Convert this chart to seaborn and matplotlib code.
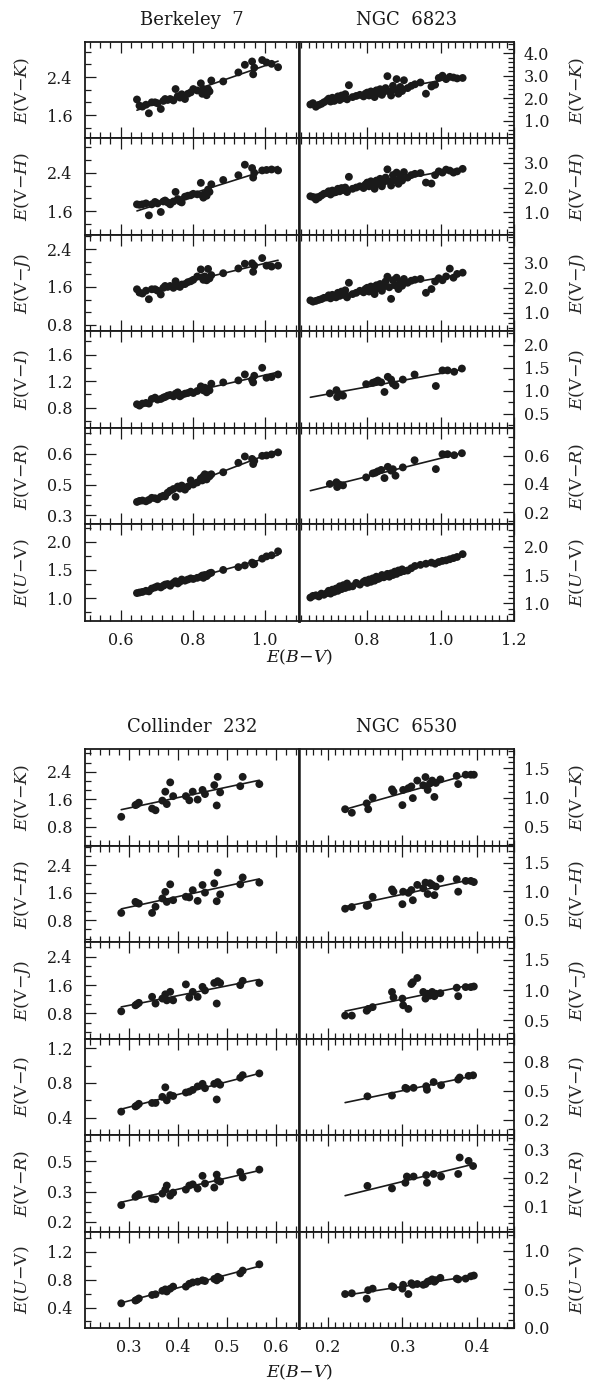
import matplotlib
matplotlib.use('Agg')
import matplotlib.pyplot as plt
import numpy as np
import seaborn as sns
from matplotlib.ticker import AutoMinorLocator

# ---------------- data ----------------
# Berkeley 7
be7_bv = [0.645, 0.652, 0.660, 0.670, 0.678, 0.686, 0.695, 0.702, 0.711, 0.718,
          0.723, 0.730, 0.737, 0.746, 0.752, 0.758, 0.764, 0.769, 0.778, 0.786,
          0.794, 0.801, 0.812, 0.822, 0.826, 0.829, 0.833, 0.838, 0.842, 0.846,
          0.851, 0.884, 0.926, 0.944, 0.964, 0.967, 0.970, 0.992, 1.004, 1.018, 1.036]
be7_vk = [1.93, 1.80, 1.78, 1.82, 1.64, 1.87, 1.87, 1.85, 1.73, 1.90,
          1.94, 1.92, 1.94, 1.91, 2.15, 2.00, 1.97, 2.04, 1.94, 2.05,
          2.08, 2.15, 2.12, 2.27, 2.05, 2.15, 2.11, 2.02, 2.15, 2.10,
          2.33, 2.31, 2.50, 2.66, 2.73, 2.46, 2.60, 2.76, 2.71, 2.68, 2.61]
be7_vh = [1.74, 1.73, 1.74, 1.76, 1.51, 1.74, 1.79, 1.76, 1.58, 1.80,
          1.82, 1.78, 1.74, 1.80, 2.00, 1.85, 1.80, 1.78, 1.90, 1.92,
          1.93, 1.96, 1.95, 2.19, 1.93, 1.88, 1.96, 1.92, 2.05, 2.00,
          2.16, 2.25, 2.35, 2.57, 2.50, 2.30, 2.40, 2.45, 2.46, 2.47, 2.45]
be7_vj = [1.55, 1.48, 1.46, 1.52, 1.34, 1.55, 1.55, 1.52, 1.44, 1.58,
          1.62, 1.60, 1.62, 1.58, 1.72, 1.62, 1.60, 1.65, 1.66, 1.70,
          1.72, 1.75, 1.82, 1.97, 1.80, 1.75, 1.82, 1.74, 1.98, 1.78,
          1.85, 1.89, 1.99, 2.09, 2.10, 1.92, 2.05, 2.21, 2.05, 2.03, 2.05]
be7_vi = [0.85, 0.83, 0.86, 0.87, 0.86, 0.93, 0.95, 0.92, 0.93, 0.95,
          0.96, 0.98, 0.99, 0.97, 1.01, 1.03, 0.97, 0.99, 1.01, 1.02,
          1.04, 1.02, 1.05, 1.12, 1.08, 1.06, 1.10, 1.03, 1.08, 1.06,
          1.16, 1.18, 1.21, 1.30, 1.22, 1.18, 1.28, 1.40, 1.25, 1.26, 1.30]
be7_vr = [0.365, 0.370, 0.372, 0.368, 0.375, 0.385, 0.383, 0.378, 0.390, 0.395,
          0.392, 0.410, 0.420, 0.428, 0.390, 0.440, 0.430, 0.445, 0.425, 0.440,
          0.470, 0.450, 0.460, 0.480, 0.470, 0.490, 0.500, 0.475, 0.495, 0.490,
          0.500, 0.510, 0.556, 0.587, 0.575, 0.550, 0.565, 0.590, 0.592, 0.597, 0.607]
be7_uv = [1.09, 1.10, 1.11, 1.13, 1.12, 1.17, 1.19, 1.21, 1.19, 1.22,
          1.24, 1.25, 1.22, 1.27, 1.30, 1.26, 1.29, 1.33, 1.31, 1.33,
          1.35, 1.34, 1.36, 1.38, 1.40, 1.36, 1.41, 1.39, 1.42, 1.44,
          1.45, 1.50, 1.55, 1.58, 1.63, 1.60, 1.61, 1.70, 1.74, 1.76, 1.83]

# NGC 6823
n6823_bv = [0.645, 0.652, 0.660, 0.668, 0.675, 0.682, 0.690, 0.695, 0.700, 0.705,
            0.710, 0.715, 0.720, 0.725, 0.730, 0.735, 0.740, 0.745, 0.750, 0.760,
            0.770, 0.780, 0.790, 0.795, 0.800, 0.805, 0.810, 0.815, 0.820, 0.825,
            0.830, 0.835, 0.840, 0.845, 0.850, 0.855, 0.860, 0.865, 0.870, 0.875,
            0.880, 0.885, 0.890, 0.895, 0.900, 0.910, 0.920, 0.930, 0.945, 0.960,
            0.975, 0.985, 0.995, 1.005, 1.015, 1.025, 1.035, 1.045, 1.060]
n6823_vk = [1.72, 1.78, 1.62, 1.70, 1.75, 1.82, 1.90, 1.98, 1.85, 2.02,
            1.88, 1.95, 2.08, 1.92, 2.12, 2.00, 2.18, 1.95, 2.58, 2.05,
            2.10, 2.15, 2.08, 2.20, 2.25, 2.12, 2.30, 2.18, 2.05, 2.35,
            2.22, 2.40, 2.15, 2.28, 2.45, 2.98, 2.30, 2.12, 2.55, 2.38,
            2.85, 2.20, 2.50, 2.32, 2.80, 2.45, 2.55, 2.62, 2.70, 2.20,
            2.52, 2.60, 2.90, 3.00, 2.85, 2.95, 2.92, 2.88, 2.90]
n6823_vh = [1.65, 1.62, 1.52, 1.60, 1.68, 1.75, 1.78, 1.85, 1.72, 1.88,
            1.80, 1.82, 1.95, 1.85, 1.98, 1.90, 2.00, 1.82, 2.43, 1.95,
            2.00, 2.05, 1.98, 2.12, 2.20, 2.05, 2.25, 2.10, 1.95, 2.28,
            2.15, 2.35, 2.05, 2.22, 2.40, 2.73, 2.25, 2.08, 2.50, 2.30,
            2.60, 2.15, 2.45, 2.28, 2.62, 2.40, 2.50, 2.55, 2.58, 2.20,
            2.16, 2.50, 2.65, 2.60, 2.72, 2.68, 2.60, 2.65, 2.75]
n6823_vj = [1.50, 1.45, 1.48, 1.52, 1.55, 1.60, 1.62, 1.70, 1.58, 1.72,
            1.65, 1.62, 1.80, 1.68, 1.85, 1.72, 1.90, 1.62, 2.20, 1.75,
            1.80, 1.88, 1.82, 1.95, 2.00, 1.85, 2.05, 1.92, 1.75, 2.10,
            1.98, 2.15, 1.88, 2.05, 2.25, 2.44, 2.02, 1.56, 2.30, 2.10,
            2.40, 1.95, 2.25, 2.08, 2.35, 2.20, 2.28, 2.32, 2.35, 1.80,
            1.95, 2.25, 2.38, 2.30, 2.45, 2.76, 2.40, 2.55, 2.60]
n6823_uv = [1.10, 1.13, 1.14, 1.12, 1.17, 1.15, 1.18, 1.22, 1.17, 1.24,
            1.20, 1.26, 1.22, 1.30, 1.25, 1.32, 1.27, 1.35, 1.29, 1.30,
            1.36, 1.33, 1.38, 1.40, 1.36, 1.42, 1.38, 1.44, 1.40, 1.47,
            1.43, 1.45, 1.50, 1.46, 1.48, 1.52, 1.47, 1.53, 1.50, 1.56,
            1.52, 1.58, 1.55, 1.60, 1.57, 1.58, 1.62, 1.66, 1.68, 1.70,
            1.72, 1.70, 1.73, 1.75, 1.76, 1.78, 1.80, 1.82, 1.87]
n6823_bv_opt = [0.698, 0.716, 0.718, 0.725, 0.734, 0.797, 0.815, 0.822, 0.829, 0.838,
                0.847, 0.856, 0.865, 0.870, 0.877, 0.897, 0.929, 0.987, 1.005, 1.019,
                1.037, 1.058]
n6823_vi = [0.94, 1.01, 0.86, 0.92, 0.89, 1.14, 1.17, 1.19, 1.22, 1.18,
            0.97, 1.30, 1.24, 1.15, 1.11, 1.24, 1.35, 1.10, 1.44, 1.44,
            1.41, 1.48]
n6823_vr = [0.400, 0.412, 0.378, 0.395, 0.390, 0.447, 0.475, 0.480, 0.490, 0.500,
            0.442, 0.522, 0.495, 0.505, 0.459, 0.518, 0.569, 0.506, 0.612, 0.612,
            0.605, 0.619]

# Collinder 232
cr232_bv = [0.284, 0.313, 0.316, 0.320, 0.347, 0.354, 0.368, 0.374, 0.377, 0.384,
            0.390, 0.416, 0.423, 0.430, 0.440, 0.450, 0.455, 0.474, 0.479, 0.481,
            0.486, 0.527, 0.532, 0.566]
cr232_vk = [1.09, 1.43, 1.45, 1.50, 1.33, 1.28, 1.56, 1.82, 1.46, 2.09,
            1.69, 1.69, 1.57, 1.82, 1.59, 1.87, 1.75, 2.01, 1.42, 2.25,
            1.80, 1.98, 2.25, 2.04]
cr232_vh = [1.01, 1.33, 1.30, 1.28, 1.01, 1.19, 1.43, 1.62, 1.33, 1.84,
            1.38, 1.48, 1.46, 1.67, 1.36, 1.82, 1.60, 1.87, 1.35, 2.18,
            1.55, 1.84, 2.04, 1.89]
cr232_vj = [0.86, 1.03, 1.06, 1.10, 1.27, 1.08, 1.22, 1.34, 1.17, 1.41,
            1.17, 1.62, 1.25, 1.41, 1.27, 1.55, 1.45, 1.66, 1.08, 1.71,
            1.66, 1.60, 1.72, 1.66]
cr232_vi = [0.47, 0.53, 0.54, 0.56, 0.57, 0.57, 0.64, 0.75, 0.60, 0.66,
            0.65, 0.69, 0.70, 0.72, 0.76, 0.79, 0.74, 0.79, 0.61, 0.81,
            0.78, 0.86, 0.89, 0.91]
cr232_vr = [0.283, 0.324, 0.330, 0.337, 0.315, 0.312, 0.340, 0.360, 0.380, 0.330,
            0.345, 0.360, 0.380, 0.386, 0.365, 0.428, 0.390, 0.370, 0.434, 0.406,
            0.400, 0.447, 0.420, 0.459]
cr232_uv = [0.46, 0.50, 0.51, 0.53, 0.58, 0.59, 0.64, 0.66, 0.63, 0.67,
            0.70, 0.70, 0.74, 0.76, 0.77, 0.79, 0.78, 0.81, 0.79, 0.84,
            0.82, 0.89, 0.93, 1.02]

# NGC 6530
n6530_bv = [0.223, 0.232, 0.252, 0.254, 0.260, 0.286, 0.288, 0.300, 0.301, 0.308,
            0.312, 0.314, 0.320, 0.328, 0.331, 0.334, 0.337, 0.340, 0.343, 0.345,
            0.351, 0.373, 0.375, 0.385, 0.392, 0.396]
n6530_vk = [0.80, 0.74, 0.90, 0.80, 1.00, 1.14, 1.10, 0.87, 1.13, 1.16,
            1.19, 0.99, 1.29, 1.21, 1.35, 1.13, 1.24, 1.29, 1.01, 1.25,
            1.31, 1.37, 1.23, 1.39, 1.39, 1.39]
n6530_vh = [0.69, 0.72, 0.74, 0.75, 0.90, 1.03, 0.99, 0.77, 0.99, 0.97,
            1.02, 0.84, 1.11, 1.05, 1.15, 0.95, 1.14, 1.11, 0.93, 1.08,
            1.22, 1.21, 0.99, 1.18, 1.18, 1.16]
n6530_vj = [0.58, 0.58, 0.66, 0.69, 0.72, 0.97, 0.88, 0.86, 0.75, 0.69,
            1.10, 1.13, 1.20, 0.97, 0.86, 0.94, 0.91, 0.97, 0.90, 0.94,
            0.95, 1.04, 0.90, 1.05, 1.05, 1.06]
n6530_uv = [0.44, 0.45, 0.38, 0.49, 0.51, 0.54, 0.53, 0.51, 0.56, 0.44,
            0.58, 0.56, 0.57, 0.56, 0.57, 0.60, 0.61, 0.63, 0.60, 0.62,
            0.65, 0.64, 0.63, 0.64, 0.67, 0.68]
n6530_bv_opt = [0.253, 0.286, 0.304, 0.306, 0.315, 0.332, 0.333, 0.342, 0.352, 0.375,
                0.377, 0.389, 0.395]
n6530_vi = [0.442, 0.450, 0.530, 0.520, 0.530, 0.547, 0.510, 0.590, 0.557, 0.616,
            0.637, 0.654, 0.660]
n6530_vr = [0.171, 0.162, 0.182, 0.204, 0.204, 0.209, 0.182, 0.213, 0.204, 0.213,
            0.271, 0.259, 0.241]

cluster_names = ['Berkeley  7', 'NGC  6823', 'Collinder  232', 'NGC  6530']
color_labels = [r'$E(\mathrm{V}{-}K)$', r'$E(\mathrm{V}{-}H)$', r'$E(\mathrm{V}{-}J)$',
                r'$E(\mathrm{V}{-}I)$', r'$E(\mathrm{V}{-}R)$', r'$E(U{-}\mathrm{V})$']

# ---------------- layout ----------------
W, H = 591, 1384
sns.set_style('ticks')
plt.rcParams['font.family'] = ['DejaVu Serif']
plt.rcParams['mathtext.fontset'] = 'dejavuserif'
INK = '#1a1a1a'

fig = plt.figure(figsize=(W / 100, H / 100), dpi=100)

clusters = [
    dict(title=cluster_names[0], bv=be7_bv,
         series=[(be7_bv, be7_vk), (be7_bv, be7_vh), (be7_bv, be7_vj),
                 (be7_bv, be7_vi), (be7_bv, be7_vr), (be7_bv, be7_uv)],
         xlim=(0.501, 1.094), xt=[0.6, 0.8, 1.0], xl=['0.6', '0.8', '1.0'], xm=7,
         ys=[((1.11, 3.14), [1.6, 2.4], ['1.6', '2.4'], 3),
             ((1.10, 3.12), [1.6, 2.4], ['1.6', '2.4'], 3),
             ((0.66, 2.70), [0.8, 1.6, 2.4], ['0.8', '1.6', '2.4'], 3),
             ((0.495, 1.95), [0.8, 1.2, 1.6], ['0.8', '1.2', '1.6'], 2),
             ((0.256, 0.727), [0.3, 0.45, 0.6], ['0.3', '0.5', '0.6'], 3),
             ((0.60, 2.31), [1.0, 1.5, 2.0], ['1.0', '1.5', '2.0'], 2)],
         left=85, width=214, top=42.0, side='left'),
    dict(title=cluster_names[1], bv=n6823_bv,
         series=[(n6823_bv, n6823_vk), (n6823_bv, n6823_vh), (n6823_bv, n6823_vj),
                 (n6823_bv_opt, n6823_vi), (n6823_bv_opt, n6823_vr), (n6823_bv, n6823_uv)],
         xlim=(0.614, 1.2), xt=[0.8, 1.0, 1.2], xl=['0.8', '1.0', '1.2'], xm=10,
         ys=[((0.21, 4.5), [1, 2, 3, 4], ['1.0', '2.0', '3.0', '4.0'], 5),
             ((0.10, 3.97), [1, 2, 3], ['1.0', '2.0', '3.0'], 5),
             ((0.27, 4.1), [1, 2, 3], ['1.0', '2.0', '3.0'], 5),
             ((0.19, 2.29), [0.5, 1.0, 1.5, 2.0], ['0.5', '1.0', '1.5', '2.0'], 2),
             ((0.113, 0.80), [0.2, 0.4, 0.6], ['0.2', '0.4', '0.6'], 3),
             ((0.69, 2.4), [1.0, 1.5, 2.0], ['1.0', '1.5', '2.0'], 5)],
         left=299, width=215, top=42.0, side='right'),
    dict(title=cluster_names[2], bv=cr232_bv,
         series=[(cr232_bv, cr232_vk), (cr232_bv, cr232_vh), (cr232_bv, cr232_vj),
                 (cr232_bv, cr232_vi), (cr232_bv, cr232_vr), (cr232_bv, cr232_uv)],
         xlim=(0.21, 0.647), xt=[0.3, 0.4, 0.5, 0.6], xl=['0.3', '0.4', '0.5', '0.6'], xm=5,
         ys=[((0.25, 3.05), [0.8, 1.6, 2.4], ['0.8', '1.6', '2.4'], 3),
             ((0.16, 2.96), [0.8, 1.6, 2.4], ['0.8', '1.6', '2.4'], 3),
             ((0.09, 2.81), [0.8, 1.6, 2.4], ['0.8', '1.6', '2.4'], 3),
             ((0.20, 1.31), [0.4, 0.8, 1.2], ['0.4', '0.8', '1.2'], 2),
             ((0.152, 0.63), [0.2, 0.35, 0.5], ['0.2', '0.3', '0.5'], 3),
             ((0.106, 1.49), [0.4, 0.8, 1.2], ['0.4', '0.8', '1.2'], 2)],
         left=85, width=214, top=749.3, side='left'),
    dict(title=cluster_names[3], bv=n6530_bv,
         series=[(n6530_bv, n6530_vk), (n6530_bv, n6530_vh), (n6530_bv, n6530_vj),
                 (n6530_bv_opt, n6530_vi), (n6530_bv_opt, n6530_vr), (n6530_bv, n6530_uv)],
         xlim=(0.161, 0.45), xt=[0.2, 0.3, 0.4], xl=['0.2', '0.3', '0.4'], xm=10,
         ys=[((0.175, 1.825), [0.5, 1.0, 1.5], ['0.5', '1.0', '1.5'], 5),
             ((0.10, 1.80), [0.5, 1.0, 1.5], ['0.5', '1.0', '1.5'], 5),
             ((0.20, 1.79), [0.5, 1.0, 1.5], ['0.5', '1.0', '1.5'], 5),
             ((0.04, 1.04), [0.2, 0.5, 0.8], ['0.2', '0.5', '0.8'], 3),
             ((0.01, 0.35), [0.1, 0.2, 0.3], ['0.1', '0.2', '0.3'], 5),
             ((0.0, 1.25), [0.0, 0.5, 1.0], ['0.0', '0.5', '1.0'], 5)],
         left=299, width=215, top=749.3, side='right'),
]

ROW_H = 96.45
TICK_FS = 11.5
LABEL_FS = 12.5

for cl in clusters:
    fit_x = np.array([min(cl['bv']), max(cl['bv'])])
    for i, ((xs, ys), (ylim, yt, yl, ym)) in enumerate(zip(cl['series'], cl['ys'])):
        top = cl['top'] + i * ROW_H
        ax = fig.add_axes([cl['left'] / W, 1 - (top + ROW_H) / H, cl['width'] / W, ROW_H / H])
        sns.scatterplot(x=xs, y=ys, ax=ax, s=32, color=INK, edgecolor='none', linewidth=0, zorder=3)
        k, b = np.polyfit(xs, ys, 1)
        ax.plot(fit_x, k * fit_x + b, color=INK, lw=1.2, zorder=2)

        ax.set_xlim(*cl['xlim'])
        ax.set_ylim(*ylim)
        ax.set_xticks(cl['xt'], cl['xl'] if i == 5 else [''] * len(cl['xt']))
        ax.set_yticks(yt, yl)
        ax.xaxis.set_minor_locator(AutoMinorLocator(cl['xm']))
        ax.yaxis.set_minor_locator(AutoMinorLocator(ym))

        for s in ax.spines.values():
            s.set_linewidth(1.3)
            s.set_color(INK)
        right = cl['side'] == 'right'
        if right:
            ax.spines['left'].set_linewidth(1.8)
        else:
            ax.spines['right'].set_linewidth(1.8)
        ax.tick_params(which='both', direction='in', top=True, bottom=True,
                       left=not right, right=right, labelleft=not right,
                       labelright=right, width=0.9, color=INK, labelcolor=INK,
                       labelsize=TICK_FS)
        ax.tick_params(which='major', length=8, pad=9 if not right else 7)
        ax.tick_params(which='minor', length=4)
        ax.tick_params(axis='x', pad=8)

        ax.set_xlabel('')
        ax.set_ylabel(color_labels[i], fontsize=LABEL_FS)
        if right:
            ax.yaxis.set_label_position('right')
            ax.yaxis.set_label_coords((577 - cl['left']) / cl['width'], 0.5)
        else:
            ax.yaxis.set_label_coords((22 - cl['left']) / cl['width'], 0.5)
        ax.yaxis.label.set_va('center')

    cx = cl['left'] + cl['width'] / 2
    fig.text(cx / W, 1 - (cl['top'] - 22) / H, cl['title'], ha='center', va='center',
             fontsize=13, color=INK)

for ypix in (657, 1372):
    fig.text(299 / W, 1 - ypix / H, r'$E(B{-}V)$', ha='center', va='center',
             fontsize=LABEL_FS, color=INK)

fig.savefig('out.png', dpi=100)
